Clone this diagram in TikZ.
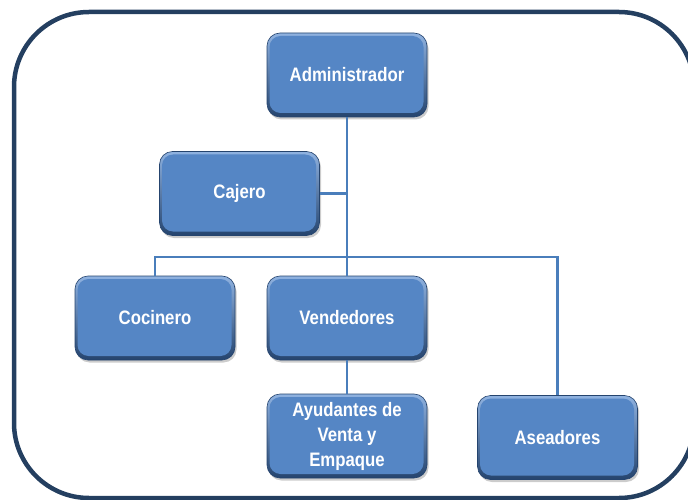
\documentclass[tikz,border=0pt]{standalone}
\usepackage{fontspec}
\setmainfont{Liberation Sans}[FakeStretch=0.86]
\usetikzlibrary{shadows}
\definecolor{boxblue}{HTML}{5586C5}
\definecolor{boxlight}{HTML}{8FB2E0}
\definecolor{boxdark}{HTML}{25446E}
\definecolor{linkblue}{HTML}{4A7EBB}
\definecolor{frameblue}{HTML}{243F60}
\begin{document}
\begin{tikzpicture}[x=1pt,y=-1pt,
  orgbox/.style={rounded corners=13pt, minimum width=160pt, minimum height=84pt,
    inner sep=2pt, align=center, text=white,
    font=\fontsize{19.5}{25}\selectfont\bfseries,
    top color=boxlight, bottom color=boxdark, draw=boxdark, line width=0.6pt,
    drop shadow={shadow xshift=1.5pt, shadow yshift=-2.5pt, fill=black!40, opacity=0.5},
    path picture={\fill[boxblue, rounded corners=11pt]
      ([shift={(2.5pt,-3pt)}]path picture bounding box.north west) rectangle
      ([shift={(-3.5pt,4pt)}]path picture bounding box.south east);}},
  link/.style={draw=linkblue, line width=2.2pt}]
\useasboundingbox (0,0) rectangle (688,500);
\draw[frameblue, line width=4.5pt, rounded corners=75pt] (14,12) rectangle (694,498);

\node[orgbox] (admin) at (347,75) {Administrador};
\node[orgbox] (cajero) at (239.5,193.5) {Cajero};
\node[orgbox] (coc) at (155,318) {Cocinero};
\node[orgbox] (vend) at (347,318) {Vendedores};
\node[orgbox] (ayud) at (347,436) {Ayudantes de\\Venta y\\Empaque};
\node[orgbox] (asea) at (557.5,437.5) {Aseadores};

\coordinate (bus) at (347,257);
\draw[link] (admin.south) -- (vend.north);
\draw[link] (cajero.east) -- (cajero.east -| admin.south);
\draw[link] (coc.north) |- (bus) -| (asea.north);
\draw[link] (vend.south) -- (ayud.north);
\end{tikzpicture}
\end{document}
